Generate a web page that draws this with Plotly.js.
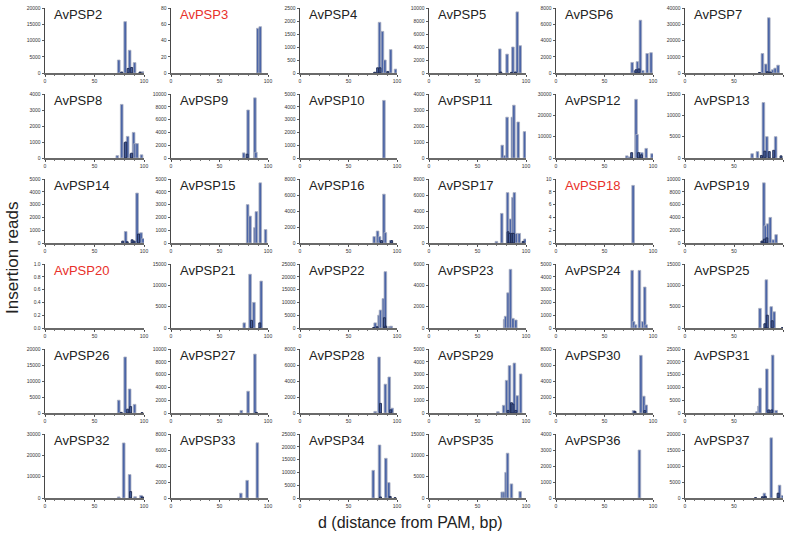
<!DOCTYPE html>
<html><head><meta charset="utf-8">
<script src="https://cdn.plot.ly/plotly-3.0.1.min.js"></script>
<style>html,body{margin:0;padding:0;background:#fff}#chart{width:786px;height:537px}</style>
</head><body><div id="chart"></div>
<script>
const names = ['AvPSP2','AvPSP3','AvPSP4','AvPSP5','AvPSP6','AvPSP7',
 'AvPSP8','AvPSP9','AvPSP10','AvPSP11','AvPSP12','AvPSP13',
 'AvPSP14','AvPSP15','AvPSP16','AvPSP17','AvPSP18','AvPSP19',
 'AvPSP20','AvPSP21','AvPSP22','AvPSP23','AvPSP24','AvPSP25',
 'AvPSP26','AvPSP27','AvPSP28','AvPSP29','AvPSP30','AvPSP31',
 'AvPSP32','AvPSP33','AvPSP34','AvPSP35','AvPSP36','AvPSP37'];
const redNames = ['AvPSP3','AvPSP18','AvPSP20'];
const yTop = [20000,80,2500,10000,8000,40000,
 4000,10000,5000,4000,30000,15000,
 5000,5000,8000,8000,10,10000,
 1.0,15000,25000,6000,5000,15000,
 20000,10000,8000,5000,8000,25000,
 30000,8000,25000,15000,4000,20000];
const yStep = [5000,20,500,2000,2000,10000,
 1000,2000,1000,1000,10000,5000,
 1000,1000,2000,2000,2,2000,
 0.2,5000,5000,2000,1000,5000,
 5000,2000,2000,1000,2000,5000,
 10000,2000,5000,5000,1000,5000];
const xTicks = [0,50,100];

const mainX = [
 [74.5,81,85.5,90.5,98.5],
 [89.5,92],
 [82,85,87.5,93.5,98.5],
 [73,80.5,86.5,91,94],
 [78.5,81,84,87,89.5,94,98],
 [79,82.5,85.5,89.5,92,95],
 [73,77.5,80.5,83.5,86.5,89.5,91,93,97.5],
 [75,79.5,86.5,87.5],
 [86.5],
 [75.5,78,80.5,86,87.5,92,98.5],
 [73,75.5,82.5,83.5,86,88.5,93,99],
 [68.5,74,80,83.5,92.5],
 [81.5,93,97,99],
 [79,81.5,86.5,88,92,97.5],
 [76.5,80,82,86.5,88,93.5],
 [69.5,75,81,84,86.5,88,90,93,99],
 [79.5],
 [80.5,82,84.5,87,90,93],
 [],
 [75.5,81.5,85.5,93],
 [77.5,81.5,83,86,88,92.5,94],
 [78,79,81.5,84,86.5,89.5],
 [78.5,80,82,86,89.5,91.5,93],
 [76.5,83,88,91],
 [74.5,81,85.5,90.5],
 [72.5,79.5,86.5],
 [77.5,81.5,88,92,95],
 [71,77,80,83,88,91,94.5],
 [80,87.5,90.5,93],
 [73.5,75.5,76.5,83.5,89.5,93],
 [74.5,79.5,85.5,91,97],
 [72,78.5,89],
 [75.5,82,88.5,91.5],
 [75.5,77.5,79.5,81,85,94],
 [86],
 [81,88,96.5,99.5]
];
const mainY = [
 [4000,15800,7000,3200,400],
 [55,57],
 [1950,1600,500,900,150],
 [3700,2900,4000,9400,4200],
 [1300,300,1400,6500,300,2400,2500],
 [12000,5500,34000,2000,3000,4800],
 [150,3350,950,1350,250,1600,900,900,200],
 [800,7500,9400,900],
 [4500],
 [800,150,2550,2550,3300,2250,1650],
 [1000,500,27500,11000,2500,2500,4500,2000],
 [1000,1500,13000,5000,5000],
 [900,3900,800,350],
 [3000,2100,1200,2450,4700,1050],
 [800,1500,800,6100,1300,300],
 [200,3700,6300,3000,5700,6300,1200,1200,500],
 [9],
 [9400,2700,3000,4000,500,1300],
 [],
 [1200,12600,6000,11000],
 [2000,5000,7000,11500,22000,600,700],
 [800,1100,3300,5500,900,750],
 [4500,500,250,4500,500,3200,250],
 [4600,11300,5000,3800],
 [4000,17500,7500,2700],
 [400,3400,9200],
 [200,7000,3600,4500,600],
 [100,600,2550,3700,3900,1350,3050],
 [300,7200,2100,1000],
 [500,2700,9700,17200,22600,1000],
 [500,25800,11000,600,1200],
 [600,2200,6900],
 [10800,20700,15500,6000],
 [1400,1400,6000,10500,3300,1500],
 [3000],
 [1500,18800,4000,800]
];
const minorX = [
 [77.5,84,87.5,96],[],[77,80,82.5,90.5],[74,85,89],[82.5,85.5],[76,84,87],
 [81.5,87.5],[78.5],[],[],[78,85,88],[78,81.5,86,90.5,98],
 [78.5,83,88,90,94.5],[],[84,94.5],[81.5,83,85.5,87,97],[],[78.5,81,83.5],
 [],[83,91.5],[76,79.5,87,88.5],[],[],[81.5,84,89,99.5],
 [77,83.5,86.5,98],[88],[83,93.5],[81.5,85,86.5,89.5],[81.5,91.5],[85.5,88.5],
 [86.5,98.5],[],[83,93,98],[],[],[72,79,82,95]
];
const minorY = [
 [300,1400,1700,300],[],[30,200,200,60],[150,100,150],[400,500],[300,800,600],
 [1000,300],[600],[],[],[2500,2500,1500],[600,1600,1500,1800,500],
 [150,100,250,150,700],[],[300,300],[1400,1200,1200,1200,200],[],[300,600,800],
 [],[1800,1200],[200,500,4000,700],[],[],[1000,3000,1700,100],
 [200,1200,2000,100],[100],[1200,400],[200,800,700,200],[200,300],[1200,1200],
 [3000,500],[],[400,600,100],[],[],[100,400,500,1500]
];

const W = 786, H = 537;
const colPx = [[45,144],[171,268],[300,397],[429,526],[556,653],[685,783]];
const rowPx = [[8,73],[94,158],[179,243],[264,328],[349,413],[434,498]];

const traces = [];
const layout = {
  width: W, height: H, margin: {l:0,r:0,t:0,b:0},
  paper_bgcolor: '#fff', plot_bgcolor: '#fff',
  showlegend: false, barmode: 'overlay',
  font: {family: 'Arial, Liberation Sans, sans-serif', color: '#222'},
  annotations: []
};
names.forEach((nm, i) => {
  const r = Math.floor(i / 6), c = i % 6;
  const s = i === 0 ? '' : String(i + 1);
  const xa = 'x' + s, ya = 'y' + s;
  traces.push({type:'bar', x: mainX[i], y: mainY[i], xaxis: xa, yaxis: ya, width: 2.7,
    marker: {color: '#4b65a7', line: {color: '#a9afc0', width: 0.8}}, hoverinfo:'x+y'});
  traces.push({type:'bar', x: minorX[i], y: minorY[i], xaxis: xa, yaxis: ya, width: 2.0,
    marker: {color: '#4a62a0', line: {color: '#1c284f', width: 0.9}}, hoverinfo:'x+y'});
  layout['xaxis' + s] = {
    domain: [colPx[c][0] / W, colPx[c][1] / W], anchor: ya,
    range: [0, 100], tickvals: xTicks, ticktext: xTicks.map(String),
    ticks: 'outside', ticklen: 2.5, tickwidth: 0.8, tickcolor: '#333',
    minor: {dtick: 10, tick0: 0, ticks: 'outside', ticklen: 1.5, tickcolor: '#555'},
    showline: true, linecolor: '#6a6a6a', linewidth: 1.5,
    showgrid: false, zeroline: false, fixedrange: true,
    tickfont: {size: 5, color: '#333'}
  };
  const tv = [];
  for (let k = 0; k <= Math.round(yTop[i] / yStep[i]); k++) tv.push(+(k * yStep[i]).toFixed(4));
  layout['yaxis' + s] = {
    domain: [1 - rowPx[r][1] / H, 1 - rowPx[r][0] / H], anchor: xa,
    range: [0, yTop[i]], tickvals: tv,
    ticktext: tv.map(v => yTop[i] < 2 ? v.toFixed(1) : String(v)),
    ticks: 'outside', ticklen: 2.5, tickwidth: 0.8, tickcolor: '#333',
    showline: true, linecolor: '#333', linewidth: 0.9,
    showgrid: false, zeroline: false, fixedrange: true,
    tickfont: {size: 5, color: '#333'}
  };
  layout.annotations.push({
    text: nm, xref: xa + ' domain', yref: ya + ' domain', x: 0.07, y: 1.05,
    xanchor: 'left', yanchor: 'top', showarrow: false,
    font: {size: 13, color: redNames.includes(nm) ? '#e8302a' : '#222'}
  });
});
layout.annotations.push({
  text: 'Insertion reads', xref: 'paper', yref: 'paper', x: 12 / W, y: 1 - 258 / H,
  textangle: -90, showarrow: false, xanchor: 'center', yanchor: 'middle',
  font: {size: 17, color: '#222'}
});
layout.annotations.push({
  text: 'd (distance from PAM, bp)', xref: 'paper', yref: 'paper', x: 410 / W, y: 1 - 522 / H,
  showarrow: false, xanchor: 'center', yanchor: 'middle',
  font: {size: 16, color: '#222'}
});
Plotly.newPlot('chart', traces, layout, {displayModeBar: false, staticPlot: true});
</script></body></html>
